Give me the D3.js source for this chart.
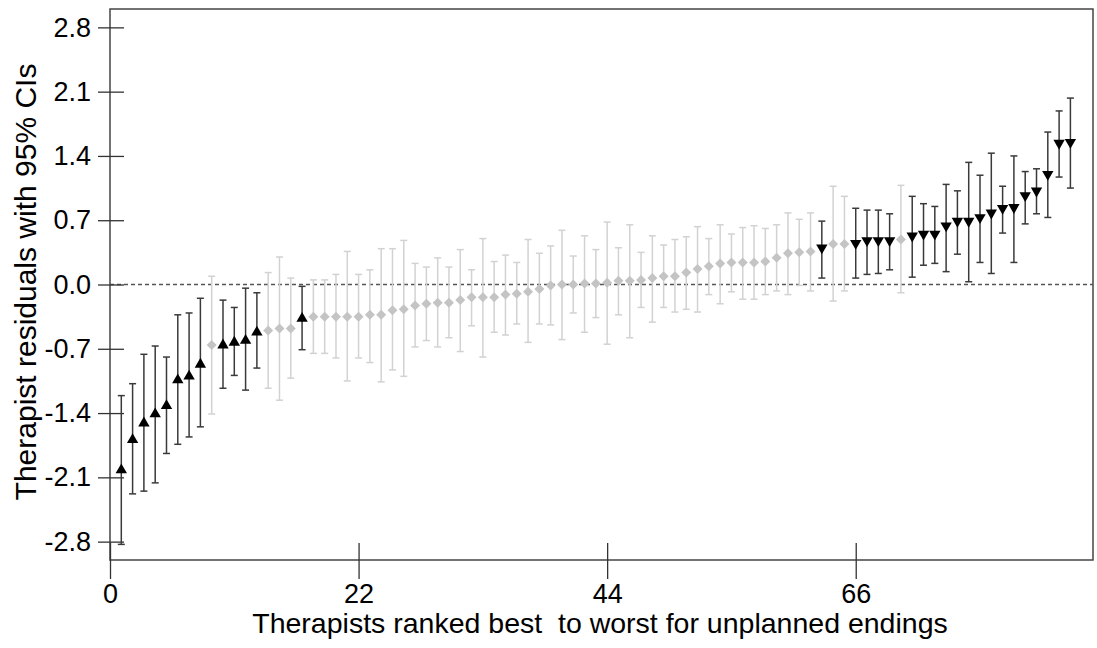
<!DOCTYPE html>
<html>
<head>
<meta charset="utf-8">
<script src="https://cdn.jsdelivr.net/npm/d3@7"></script>
<style>
  html, body { margin: 0; padding: 0; background: #fff; }
  svg { display: block; font-family: "Liberation Sans", Arial, sans-serif; }
</style>
</head>
<body>
<svg id="chart" width="1097" height="648"></svg>
<script>
// Therapist rank (1 = best) and residual estimate with 95% CI bounds
const ranks = d3.range(1, 86);

const residual = [
  -2.02, -1.69, -1.51, -1.41, -1.32, -1.04, -1.00, -0.87, -0.66, -0.66,
  -0.63, -0.61, -0.52, -0.50, -0.48, -0.48, -0.37, -0.35, -0.35, -0.35,
  -0.35, -0.35, -0.33, -0.33, -0.28, -0.27, -0.23, -0.21, -0.20, -0.20,
  -0.17, -0.14, -0.14, -0.14, -0.11, -0.10, -0.08, -0.05, -0.01, 0.00,
   0.00,  0.01,  0.01,  0.02,  0.04,  0.04,  0.05,  0.07,  0.09, 0.09,
   0.13,  0.17,  0.20,  0.23,  0.24,  0.24,  0.24,  0.25,  0.29, 0.34,
   0.35,  0.36,  0.40,  0.44,  0.44,  0.45,  0.48,  0.48,  0.48, 0.49,
   0.53,  0.55,  0.55,  0.64,  0.69,  0.69,  0.73,  0.78,  0.83, 0.84,
   0.97,  1.02,  1.20,  1.54,  1.55
];

const ciLower = [
  -2.83, -2.28, -2.25, -2.16, -1.84, -1.74, -1.66, -1.55, -1.41, -1.13,
  -0.99, -1.15, -0.91, -1.13, -1.26, -1.02, -0.71, -0.75, -0.75, -0.80,
  -1.05, -0.80, -0.85, -1.06, -0.93, -1.00, -0.68, -0.61, -0.68, -0.58,
  -0.73, -0.45, -0.79, -0.52, -0.55, -0.43, -0.63, -0.43, -0.44, -0.60,
  -0.31, -0.52, -0.36, -0.65, -0.33, -0.58, -0.25, -0.41, -0.25, -0.30,
  -0.27, -0.30, -0.11, -0.21, -0.08, -0.16, -0.16, -0.11, -0.07, -0.11,
  -0.01, -0.07,  0.07, -0.18, -0.07,  0.07,  0.11,  0.12,  0.16, -0.09,
   0.08,  0.21,  0.23,  0.14,  0.33,  0.03,  0.24,  0.12,  0.56,  0.24,
   0.66,  0.77,  0.73,  1.17,  1.05
];

const ciUpper = [
  -1.21, -1.08, -0.76, -0.67, -0.79, -0.33, -0.31, -0.15,  0.09, -0.17,
  -0.25, -0.04, -0.09,  0.13,  0.30,  0.07, -0.02,  0.05,  0.05,  0.11,
   0.36,  0.11,  0.16,  0.39,  0.39,  0.48,  0.23,  0.19,  0.29,  0.19,
   0.38,  0.16,  0.50,  0.25,  0.32,  0.24,  0.49,  0.34,  0.42,  0.59,
   0.31,  0.53,  0.38,  0.68,  0.40,  0.65,  0.35,  0.53,  0.43,  0.49,
   0.52,  0.63,  0.50,  0.65,  0.55,  0.62,  0.64,  0.61,  0.65,  0.78,
   0.71,  0.78,  0.69,  1.07,  0.96,  0.83,  0.81,  0.81,  0.77,  1.08,
   0.96,  0.88,  0.85,  1.09,  1.02,  1.33,  1.19,  1.43,  1.07,  1.40,
   1.23,  1.26,  1.66,  1.89,  2.03
];

const xTicks = [0, 22, 44, 66];
const yTicks = [-2.8, -2.1, -1.4, -0.7, 0, 0.7, 1.4, 2.1, 2.8];
const xTitle = "Therapists ranked best  to worst for unplanned endings";
const yTitle = "Therapist residuals with 95% CIs";

const W = 1097, H = 648;
const margin = { left: 110, top: 9, right: 4, bottom: 88 };

const x = d3.scaleLinear().domain([0, 87]).range([margin.left, W - margin.right]);
const y = d3.scaleLinear().domain([-3, 3]).range([H - margin.bottom, margin.top]);

const svg = d3.select("#chart");

// Classify each therapist: CI wholly below zero, wholly above, or spanning it
const rows = ranks.map((r, i) => ({
  rank: r,
  est: residual[i],
  lo: ciLower[i],
  hi: ciUpper[i],
  kind: ciUpper[i] < 0 ? "better" : (ciLower[i] > 0 ? "worse" : "ns")
}));

const barColor = { ns: "#d2d2d2", better: "#3a3a3a", worse: "#3a3a3a" };
const capHalf = 3.5;

// Plot frame
svg.append("rect")
  .attr("x", margin.left).attr("y", margin.top)
  .attr("width", W - margin.left - margin.right)
  .attr("height", H - margin.top - margin.bottom)
  .attr("fill", "none").attr("stroke", "#444").attr("stroke-width", 1.5);

// Reference line at zero
svg.append("line")
  .attr("x1", x(0)).attr("x2", x(87))
  .attr("y1", y(0)).attr("y2", y(0))
  .attr("stroke", "#555").attr("stroke-width", 1.5)
  .attr("stroke-dasharray", "4,3");

// Axes with ticks that cross the frame
const yAxis = d3.axisLeft(y).tickValues(yTicks)
  .tickFormat(d => d.toFixed(1)).tickSize(12).tickPadding(7);
const gy = svg.append("g").attr("transform", `translate(${margin.left},0)`).call(yAxis);
gy.select(".domain").remove();
gy.selectAll(".tick line").attr("x1", 14).attr("stroke", "#333").attr("stroke-width", 1.3);
gy.selectAll(".tick text").attr("font-size", 27).attr("fill", "#000")
  .attr("font-family", "'Liberation Sans', Arial, sans-serif");

const xAxis = d3.axisBottom(x).tickValues(xTicks).tickSize(19).tickPadding(5);
const gx = svg.append("g").attr("transform", `translate(0,${H - margin.bottom})`).call(xAxis);
gx.select(".domain").remove();
gx.selectAll(".tick line").attr("y1", -17).attr("stroke", "#333").attr("stroke-width", 1.3);
gx.selectAll(".tick text").attr("font-size", 27).attr("fill", "#000")
  .attr("font-family", "'Liberation Sans', Arial, sans-serif");

// Error bars, non-significant first so the flagged therapists sit on top
const ordered = rows.filter(d => d.kind === "ns").concat(rows.filter(d => d.kind !== "ns"));

const bars = svg.append("g").selectAll("g").data(ordered).join("g")
  .attr("stroke", d => barColor[d.kind]).attr("stroke-width", 1.5);
bars.append("line")
  .attr("x1", d => x(d.rank)).attr("x2", d => x(d.rank))
  .attr("y1", d => y(d.lo)).attr("y2", d => y(d.hi));
bars.append("line")
  .attr("x1", d => x(d.rank) - capHalf).attr("x2", d => x(d.rank) + capHalf)
  .attr("y1", d => y(d.hi)).attr("y2", d => y(d.hi));
bars.append("line")
  .attr("x1", d => x(d.rank) - capHalf).attr("x2", d => x(d.rank) + capHalf)
  .attr("y1", d => y(d.lo)).attr("y2", d => y(d.lo));

// Point markers
const tri = d3.symbol(d3.symbolTriangle, 56)();
const diamond = d3.symbol(d3.symbolSquare, 50)();
svg.append("g").selectAll("path").data(ordered).join("path")
  .attr("d", d => d.kind === "ns" ? diamond : tri)
  .attr("transform", d => {
    const rot = d.kind === "ns" ? 45 : (d.kind === "worse" ? 180 : 0);
    return `translate(${x(d.rank)},${y(d.est)}) rotate(${rot})`;
  })
  .attr("fill", d => d.kind === "ns" ? "#c4c4c4" : "#000");

// Axis titles
svg.append("text")
  .attr("x", 600)
  .attr("y", 633)
  .attr("text-anchor", "middle")
  .attr("font-size", 28.5)
  .style("white-space", "pre")
  .attr("fill", "#000")
  .text(xTitle);

svg.append("text")
  .attr("transform", `translate(36,282) rotate(-90)`)
  .attr("text-anchor", "middle")
  .attr("font-size", 30)
  .attr("fill", "#000")
  .text(yTitle);
</script>
</body>
</html>
